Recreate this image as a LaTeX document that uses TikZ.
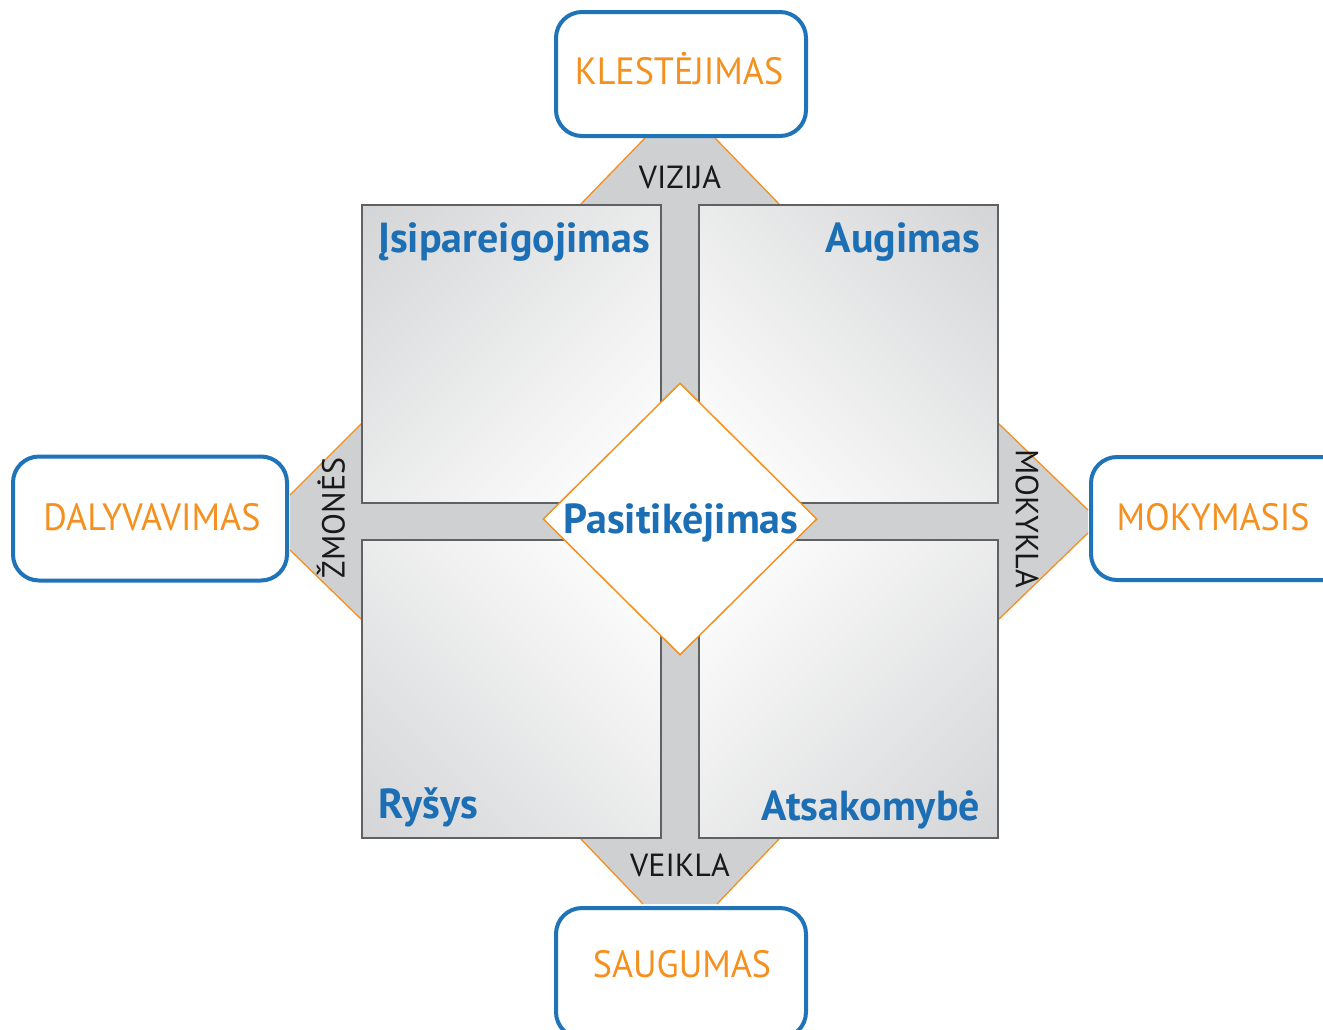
\documentclass[tikz,border=0pt]{standalone}
\usepackage{fontspec}
\setmainfont{PT Sans}
\usetikzlibrary{shapes.geometric}
\definecolor{boxblue}{HTML}{1E73B9}
\definecolor{txtblue}{HTML}{1C6FB4}
\definecolor{orng}{HTML}{F5901E}
\definecolor{crossgray}{HTML}{CFD0D2}
\definecolor{sqedge}{HTML}{606163}
\definecolor{sqgray}{HTML}{CBCCCE}
\pgfdeclareverticalshading{quadfade}{100bp}{color(0bp)=(white); color(18bp)=(white); color(100bp)=(sqgray)}
\begin{document}
\begin{tikzpicture}[x=1pt,y=-1pt,
  outerbox/.style={draw=boxblue, line width=4pt, rounded corners=26pt, fill=white, inner sep=0pt},
  outerlbl/.style={text=orng, font=\fontsize{38}{40}\selectfont, inner sep=0pt, anchor=base, xscale=0.95},
  quadlbl/.style={text=txtblue, font=\bfseries\fontsize{42}{44}\selectfont, inner sep=0pt},
  bandlbl/.style={text=black!90, font=\fontsize{32}{34}\selectfont, inner sep=0pt},
  quadbox/.style={draw=sqedge, line width=2pt, minimum width=299pt, minimum height=298pt, inner sep=0pt},
  quadshade/.style={shading=quadfade, shading angle=#1},
  bandedge/.style={draw=orng, line width=1.3pt},
]
\useasboundingbox (0,0) rectangle (1323,1029);
\clip (0,0) rectangle (1323,1029);
\fill[white] (0,0) rectangle (1323,1029);

% gray bands and trapezoids
\fill[crossgray] (362,205) rectangle (998,838);
\fill[crossgray] (645,138) -- (715,138) -- (780,205) -- (580,205) -- cycle;
\fill[crossgray] (580,838) -- (780,838) -- (717,904) -- (643,904) -- cycle;
\fill[crossgray] (362,423) -- (290,495) -- (290,550) -- (362,620) -- cycle;
\fill[crossgray] (998,423) -- (1088,510) -- (1088,533) -- (998,620) -- cycle;
\draw[bandedge] (645,138) -- (580,205);
\draw[bandedge] (715,138) -- (780,205);
\draw[bandedge] (580,838) -- (643,904);
\draw[bandedge] (780,838) -- (717,904);
\draw[bandedge] (362,423) -- (290,495);
\draw[bandedge] (362,620) -- (290,550);
\draw[bandedge] (998,423) -- (1088,510);
\draw[bandedge] (998,620) -- (1088,533);

% shaded quadrants (white towards the centre, grey towards the outer corner)
\shade[quadshade=45] (362,205) rectangle (661,503);
\shade[quadshade=-45] (698,205) rectangle (998,503);
\shade[quadshade=135] (362,540) rectangle (661,838);
\shade[quadshade=-135] (698,540) rectangle (998,838);
\node[quadbox] (q1) at (511.5,354) {};
\node[quadbox] (q2) at (848,354) {};
\node[quadbox] (q3) at (511.5,689) {};
\node[quadbox] (q4) at (848,689) {};

% centre diamond
\node[diamond, draw=orng, line width=1.5pt, fill=white, minimum width=274pt, minimum height=272pt, inner sep=0pt] (trust) at (680,519) {};

% outer boxes
\node[outerbox, minimum width=250pt, minimum height=124pt] (top) at (681,74) {};
\node[outerbox, minimum width=274pt, minimum height=124pt] (left) at (150,518.5) {};
\node[outerbox, minimum width=260pt, minimum height=123pt, anchor=west] (right) at (1089,518.5) {};
\node[outerbox, minimum width=250pt, minimum height=130pt, anchor=north] (bottom) at (681,906) {};

% labels
\node[outerlbl] (tl) at (679,84) {KLESTĖJIMAS};
\node[outerlbl] (ll) at (152,530) {DALYVAVIMAS};
\node[outerlbl] (rl) at (1213,530) {MOKYMASIS};
\node[outerlbl] (bl) at (682,977) {SAUGUMAS};

\node[quadlbl, anchor=base west] (q1l) at (378,252) {Įsipareigojimas};
\node[quadlbl, anchor=base east] (q2l) at (980,252) {Augimas};
\node[quadlbl, anchor=base west] (q3l) at (378,818) {Ryšys};
\node[quadlbl, anchor=base east] (q4l) at (980,820) {Atsakomybė};
\node[quadlbl, anchor=base] (cl) at (681,533) {Pasitikėjimas};

\node[bandlbl, anchor=base] (vz) at (680,188) {VIZIJA};
\node[bandlbl, anchor=base] (vk) at (680,876) {VEIKLA};
\node[bandlbl, rotate=90] (zm) at (331,518) {ŽMONĖS};
\node[bandlbl, rotate=-90] (mk) at (1027,519) {MOKYKLA};
\end{tikzpicture}
\end{document}
